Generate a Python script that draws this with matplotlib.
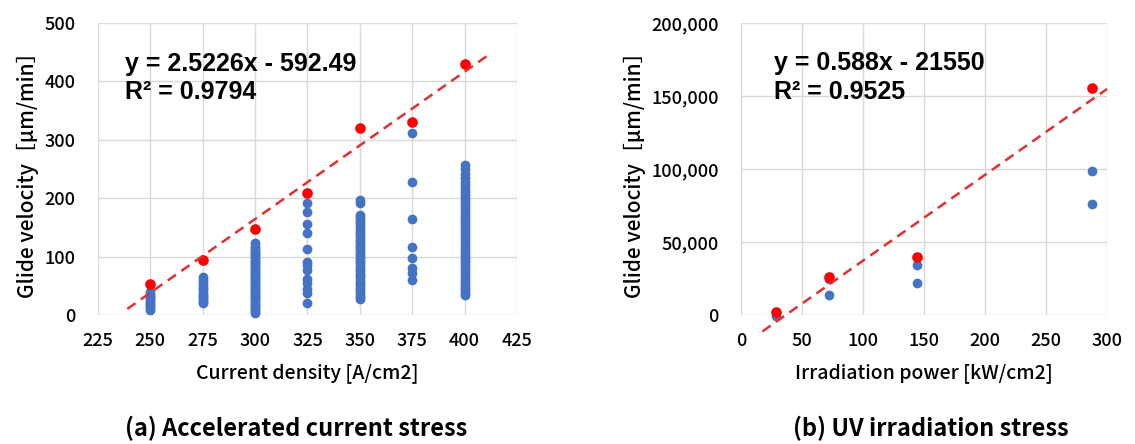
import matplotlib
matplotlib.use("Agg")
import matplotlib.pyplot as plt
from matplotlib.ticker import FuncFormatter

plt.rcParams['font.family'] = ['Noto Sans CJK JP', 'DejaVu Sans']

# (a) accelerated current stress: blue = all samples, red = max per current
cur_blue = {
    250: [9, 12, 15, 18, 21, 24, 27, 30, 33, 36, 39],
    275: [20, 23, 26, 29, 32, 35, 38, 42, 46, 50, 55, 60, 65],
    300: [3, 6, 9, 12, 15, 18, 21, 24, 27, 30, 33, 36, 39, 42, 45, 48, 51, 54,
          57, 60, 63, 66, 69, 72, 75, 78, 81, 84, 87, 90, 93, 96, 99, 102, 105,
          108, 111, 115, 119, 124],
    325: [20, 38, 44, 54, 61, 77, 86, 91, 113, 140, 155, 177, 191],
    350: [27, 31, 35, 39, 43, 47, 51, 55, 59, 63, 67, 71, 75, 79, 83, 87, 91,
          95, 99, 103, 107, 111, 115, 119, 123, 127, 131, 135, 139, 143, 147,
          151, 155, 159, 163, 167, 172, 191, 197],
    375: [60, 72, 80, 97, 116, 165, 227, 312],
    400: [34, 38, 42, 46, 50, 55, 60, 65, 70, 75, 80, 85, 90, 95, 100, 105, 110,
          115, 120, 125, 130, 135, 140, 145, 150, 155, 160, 165, 170, 175, 180,
          185, 190, 195, 200, 205, 210, 215, 222, 228, 235, 242, 250, 257],
}
cur_red_x = [250, 275, 300, 325, 350, 375, 400]
cur_red_y = [53, 95, 147, 209, 320, 330, 429]
cur_fit = (2.5226, -592.49)
cur_fit_x = [239, 411]

# (b) UV irradiation stress
uv_blue_x = [28.8, 72, 72, 144, 144, 288, 288]
uv_blue_y = [-500, 25000, 13700, 34000, 21700, 98300, 75900]
uv_red_x = [28.8, 72, 144, 288]
uv_red_y = [1800, 26300, 40000, 155400]
uv_fit = (588, -21550)
uv_fit_x = [17.5, 300]

blue = '#4472C4'
red = '#FF0000'
line_red = '#E0302F'
grid_c = '#D9D9D9'
eq_font = ['Liberation Sans', 'DejaVu Sans']

fig = plt.figure(figsize=(11.35, 4.44), dpi=100)
ax1 = fig.add_axes([0.0863, 0.2905, 0.3692, 0.6577])
ax2 = fig.add_axes([0.6529, 0.2905, 0.3225, 0.6577])


def style(ax):
    for s in ax.spines.values():
        s.set_visible(False)
    ax.grid(True, color=grid_c, lw=1)
    ax.set_axisbelow(True)
    ax.tick_params(length=0, labelsize=13)
    ax.tick_params(axis='x', pad=12)
    ax.tick_params(axis='y', pad=16)
    for lab in ax.get_xticklabels() + ax.get_yticklabels():
        lab.set_fontweight('medium')


# left chart
for x, ys in cur_blue.items():
    ax1.scatter([x] * len(ys), ys, s=36, color=blue, zorder=3, clip_on=False)
ax1.scatter(cur_red_x, cur_red_y, s=44, color=red, zorder=4, clip_on=False)
ax1.plot(cur_fit_x, [cur_fit[0] * x + cur_fit[1] for x in cur_fit_x],
         color=line_red, lw=1.8, dashes=(4, 2.6), zorder=5)
ax1.set_xlim(225, 425)
ax1.set_ylim(0, 500)
ax1.set_xticks(range(225, 426, 25))
ax1.set_yticks(range(0, 501, 100))
style(ax1)
ax1.text(238, 451, 'y = 2.5226x - 592.49\nR² = 0.9794', fontsize=18,
         family=eq_font, fontweight='bold', va='top', ha='left',
         linespacing=1.22)
ax1.set_xlabel('Current density [A/cm2]', fontsize=14, labelpad=10,
               fontweight='medium')

# right chart
ax2.scatter(uv_blue_x, uv_blue_y, s=36, color=blue, zorder=3, clip_on=False)
ax2.scatter(uv_red_x, uv_red_y, s=44, color=red, zorder=4, clip_on=False)
ax2.plot(uv_fit_x, [uv_fit[0] * x + uv_fit[1] for x in uv_fit_x],
         color=line_red, lw=1.8, dashes=(4, 2.6), zorder=5, clip_on=False)
ax2.set_xlim(0, 300)
ax2.set_ylim(0, 200000)
ax2.set_xticks(range(0, 301, 50))
ax2.set_yticks(range(0, 200001, 50000))
ax2.yaxis.set_major_formatter(FuncFormatter(lambda v, p: f'{int(v):,}'))
style(ax2)
ax2.text(27, 180500, 'y = 0.588x - 21550\nR² = 0.9525', fontsize=18,
         family=eq_font, fontweight='bold', va='top', ha='left',
         linespacing=1.22)
ax2.set_xlabel('Irradiation power [kW/cm2]', fontsize=14, labelpad=10,
               fontweight='medium')

# y labels
ylab = 'Glide velocity［μm/min］'
fig.text(28 / 1135, 1 - 170 / 444, ylab, rotation=90, fontsize=15,
         fontweight='medium', ha='center', va='center')
fig.text(635 / 1135, 1 - 170 / 444, ylab, rotation=90, fontsize=15,
         fontweight='medium', ha='center', va='center')

# captions
fig.text(296 / 1135, 1 - 428 / 444, '(a) Accelerated current stress',
         fontsize=17, fontweight='bold', ha='center', va='center')
fig.text(931 / 1135, 1 - 428 / 444, '(b) UV irradiation stress',
         fontsize=17, fontweight='bold', ha='center', va='center')

fig.savefig('out.png', dpi=100)
